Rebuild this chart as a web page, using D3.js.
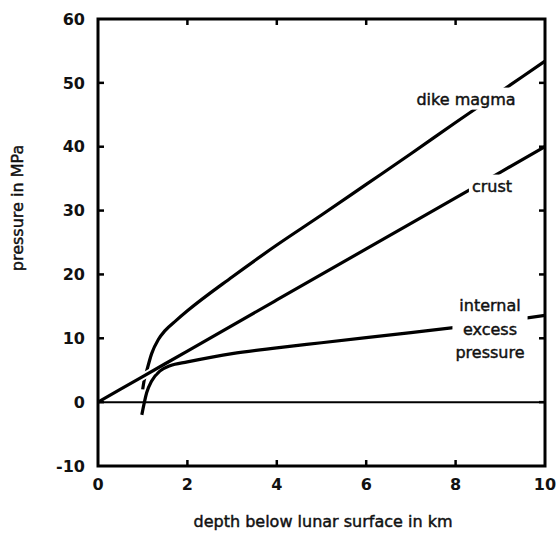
<!DOCTYPE html>
<html>
<head>
<meta charset="utf-8">
<script src="https://cdn.jsdelivr.net/npm/d3@7/dist/d3.min.js"></script>
<style>
  html, body { margin: 0; padding: 0; background: #fff; }
  svg { display: block; }
  text { font-family: "DejaVu Sans", Verdana, sans-serif; fill: #111; }
  .semi { stroke: #111; stroke-width: 0.45px; }
</style>
</head>
<body>
<svg id="chart" width="557" height="533"></svg>
<script>
// Depth below the lunar surface (km) and pressures (MPa)
const crustDepth = [0, 1, 2, 4, 6, 8, 10];
const crustPressure = [0, 4, 8, 16, 24, 32, 40];

const dikeDepth = [1.0, 1.03, 1.09, 1.2, 1.35, 1.5, 1.75, 2, 3, 4, 5, 6, 7, 8, 9, 10];
const dikePressure = [2.0, 3.3, 4.9, 7.6, 9.8, 11.2, 12.8, 14.3, 19.6, 24.6, 29.3, 34.1, 38.9, 43.8, 48.6, 53.4];

const excessDepth = [0.98, 1.09, 1.2, 1.39, 1.61, 2, 2.58, 3, 4, 5, 6, 7, 8, 9, 10];
const excessPressure = [-2.0, 1.5, 3.3, 4.9, 5.7, 6.3, 7.1, 7.6, 8.5, 9.3, 10.1, 10.9, 11.7, 12.6, 13.6];

const xTicks = [0, 2, 4, 6, 8, 10];
const yTicks = [-10, 0, 10, 20, 30, 40, 50, 60];

const svg = d3.select("#chart");
const plotL = 98, plotR = 545, plotT = 19, plotB = 466;

const x = d3.scaleLinear().domain([0, 10]).range([plotL, plotR]);
const y = d3.scaleLinear().domain([-10, 60]).range([plotB, plotT]);

const zip = (xs, ys) => xs.map((d, i) => [d, ys[i]]);
const line = d3.line().x(d => x(d[0])).y(d => y(d[1])).curve(d3.curveMonotoneX);

// zero-pressure reference line
svg.append("line")
  .attr("x1", x(0)).attr("x2", x(10))
  .attr("y1", y(0)).attr("y2", y(0))
  .attr("stroke", "#000").attr("stroke-width", 2);

// curves
svg.append("path").datum(zip(dikeDepth, dikePressure))
  .attr("d", line).attr("fill", "none").attr("stroke", "#000").attr("stroke-width", 3.2);
svg.append("path").datum(zip(excessDepth, excessPressure))
  .attr("d", line).attr("fill", "none").attr("stroke", "#000").attr("stroke-width", 3.2);

// white casing where the crust line crosses the magma curve
const crustData = zip(crustDepth, crustPressure);
svg.append("path").datum([[0.95, 3.8], [1.25, 5.0]])
  .attr("d", d3.line().x(d => x(d[0])).y(d => y(d[1])))
  .attr("fill", "none").attr("stroke", "#fff").attr("stroke-width", 7);
svg.append("path").datum(crustData)
  .attr("d", line).attr("fill", "none").attr("stroke", "#000").attr("stroke-width", 3.2);

// curve labels on white backgrounds
function label(lines, cx, cy, size, gap) {
  const g = svg.append("g");
  const bg = g.append("rect").attr("fill", "#fff");
  const t = g.append("text")
    .attr("class", "semi")
    .attr("text-anchor", "middle")
    .attr("font-size", size);
  lines.forEach((s, i) => {
    t.append("tspan").attr("x", cx)
      .attr("y", cy + (i - (lines.length - 1) / 2) * gap)
      .attr("dy", "0.35em").text(s);
  });
  const b = t.node().getBBox();
  bg.attr("x", b.x - 3).attr("y", b.y - 2).attr("width", b.width + 6).attr("height", b.height + 3);
}
label(["dike magma"], 466, 99, 16, 0);
label(["crust"], 492, 186, 16, 0);
label(["internal", "excess", "pressure"], 490, 329, 16, 23.5);

// frame with inward ticks on all sides
svg.append("rect")
  .attr("x", plotL).attr("y", plotT).attr("width", plotR - plotL).attr("height", plotB - plotT)
  .attr("fill", "none").attr("stroke", "#000").attr("stroke-width", 3);

const tl = 6;
xTicks.slice(1, -1).forEach(v => {
  svg.append("line").attr("x1", x(v)).attr("x2", x(v)).attr("y1", plotB).attr("y2", plotB - tl)
    .attr("stroke", "#000").attr("stroke-width", 2.5);
  svg.append("line").attr("x1", x(v)).attr("x2", x(v)).attr("y1", plotT).attr("y2", plotT + tl)
    .attr("stroke", "#000").attr("stroke-width", 2.5);
});
yTicks.slice(1, -1).forEach(v => {
  svg.append("line").attr("x1", plotL).attr("x2", plotL + tl).attr("y1", y(v)).attr("y2", y(v))
    .attr("stroke", "#000").attr("stroke-width", 2.5);
  svg.append("line").attr("x1", plotR).attr("x2", plotR - tl).attr("y1", y(v)).attr("y2", y(v))
    .attr("stroke", "#000").attr("stroke-width", 2.5);
});

// tick labels
svg.selectAll(".xl").data(xTicks).enter().append("text")
  .attr("x", d => x(d)).attr("y", 490)
  .attr("text-anchor", "middle").attr("font-size", 16).attr("font-weight", "bold")
  .text(d => d);
svg.selectAll(".yl").data(yTicks).enter().append("text")
  .attr("x", 85).attr("y", d => y(d)).attr("dy", "0.36em")
  .attr("text-anchor", "end").attr("font-size", 16).attr("font-weight", "bold")
  .text(d => d);

// axis titles
svg.append("text")
  .attr("class", "semi")
  .attr("x", 323).attr("y", 527)
  .attr("text-anchor", "middle").attr("font-size", 16)
  .text("depth below lunar surface in km");
svg.append("text")
  .attr("class", "semi")
  .attr("transform", "translate(23,208) rotate(-90)")
  .attr("text-anchor", "middle").attr("font-size", 16)
  .text("pressure in MPa");
</script>
</body>
</html>
